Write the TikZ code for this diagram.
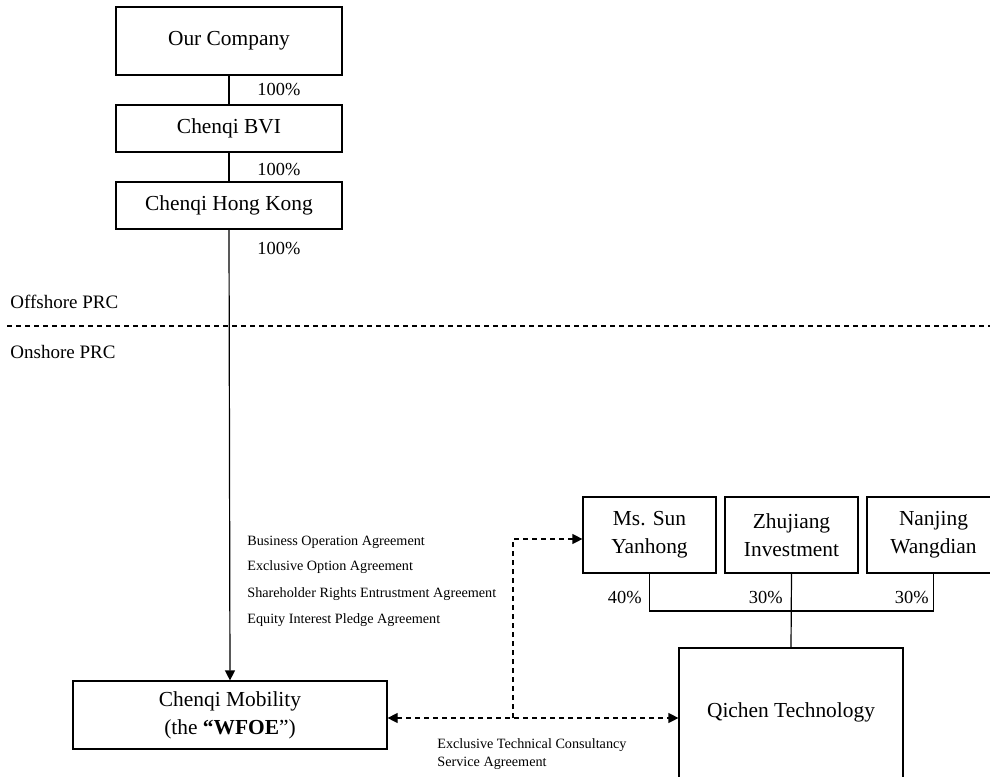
\documentclass[tikz,border=0pt]{standalone}
\usepackage{fontspec}
\setmainfont{Liberation Serif}
\usetikzlibrary{arrows.meta}
\begin{document}
\begin{tikzpicture}[x=0.5pt,y=-0.5pt,
  box/.style={draw,line width=0.6pt,inner sep=0pt,align=center,font=\fontsize{10.7}{14}\selectfont},
  conn/.style={line width=0.6pt},
  dsh/.style={line width=0.6pt,dash pattern=on 2.5pt off 2pt},
  tip/.style={-{Triangle[length=5pt,width=5pt]}},
  pct/.style={font=\fontsize{9.2}{11}\selectfont,inner sep=0pt},
  region/.style={font=\fontsize{9.5}{11}\selectfont,inner sep=0pt,anchor=west},
  agr/.style={font=\fontsize{7.1}{8.5}\selectfont,inner sep=0pt,anchor=west,align=left}]
\useasboundingbox (0,0) rectangle (990,776);
\clip (0,0) rectangle (990,776);
% boxes
\node[box,minimum width=113pt,minimum height=34pt] (ourco) at (229,41) {Our Company};
\node[box,minimum width=113pt,minimum height=23.5pt] (bvi) at (229,128.5) {Chenqi BVI};
\node[box,minimum width=113pt,minimum height=23.5pt] (hk) at (229,205.5) {Chenqi Hong Kong};
\node[box,minimum width=157pt,minimum height=34pt] (wfoe) at (230,715) {Chenqi Mobility\\(the \textbf{“WFOE}”)};
\node[box,minimum width=66.5pt,minimum height=38pt] (sun) at (649.5,535) {Ms. Sun\\Yanhong};
\node[box,minimum width=66.5pt,minimum height=38pt] (zhu) at (791.5,535) {Zhujiang\\Investment};
\node[box,minimum width=66.5pt,minimum height=38pt] (nan) at (933.5,535) {Nanjing\\Wangdian};
\node[box,minimum width=112pt,minimum height=65pt] (qc) at (791,713) {};
\node[font=\fontsize{10.7}{12.6}\selectfont,inner sep=0pt] (qct) at (791,712) {Qichen Technology};
% ownership lines
\draw[conn] (ourco.south) -- (bvi.north);
\draw[conn] (bvi.south) -- (hk.north);
\draw[conn,tip] (hk.south) -- (wfoe.north);
\draw[conn] (zhu.south) -- (qc.north);
\coordinate (bl) at (649.5,611);
\coordinate (br) at (933.5,611);
\draw[conn] (sun.south) -- (bl) -- (br) -- (nan.south);
% offshore / onshore divider
\coordinate (dl) at (7,326);
\coordinate (dr) at (990,326);
\draw[dsh] (dl) -- (dr);
\node[region] (off) at (10,302) {Offshore PRC};
\node[region] (on) at (10,352) {Onshore PRC};
% percentages
\node[pct,anchor=west] (p1) at (257,90) {100\%};
\node[pct,anchor=west] (p2) at (257,170) {100\%};
\node[pct,anchor=west] (p3) at (257,248) {100\%};
\node[pct,anchor=east] (p4) at (642,597) {40\%};
\node[pct,anchor=east] (p5) at (783,597) {30\%};
\node[pct,anchor=east] (p6) at (929,597) {30\%};
% contractual arrangements
\coordinate (j) at (513,718);
\coordinate (jt) at (513,539);
\coordinate (we) at (wfoe.east |- j);
\coordinate (qw) at (qc.west |- j);
\draw[dsh,{Triangle[length=5pt,width=5pt]}-{Triangle[length=5pt,width=5pt]}] (we) -- (qw);
\draw[dsh,tip] (j) -- (jt) -- (sun.west |- jt);
\node[agr] (a1) at (247,542) {Business Operation Agreement};
\node[agr] (a2) at (247,567) {Exclusive Option Agreement};
\node[agr] (a3) at (247,594) {Shareholder Rights Entrustment Agreement};
\node[agr] (a4) at (247,620) {Equity Interest Pledge Agreement};
\node[agr] (a5) at (437,745) {Exclusive Technical Consultancy};
\node[agr] (a6) at (437,763) {Service Agreement};
\end{tikzpicture}
\end{document}
